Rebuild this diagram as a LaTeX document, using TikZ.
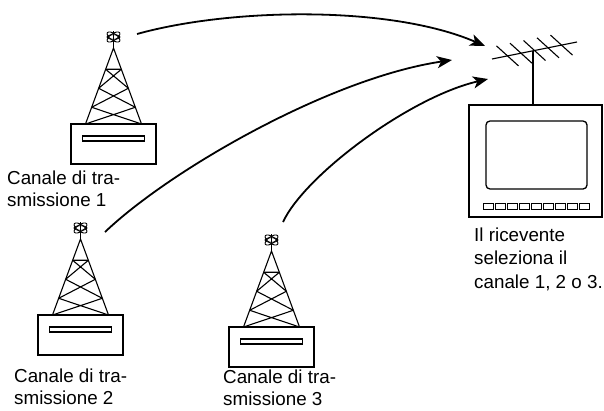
\documentclass[tikz,border=0pt]{standalone}
\usepackage{fontspec}
\setmainfont{Liberation Sans}
\usetikzlibrary{arrows.meta}
\begin{document}
\begin{tikzpicture}[x=1pt,y=-1pt,
  lattice/.style={line width=1.1pt},
  frame/.style={line width=1.3pt},
  signal/.style={line width=1.8pt,-{Stealth[length=15pt,width=12pt,inset=4pt]}},
  caption/.style={anchor=base west,inner sep=0pt,font=\fontsize{18.8}{22}\selectfont},
  % transmitter: box with display slot, lattice mast and aerial on top
  tower/.pic={
    \draw[frame] (-42.5,0) rectangle (42.5,40);
    \draw[lattice] (-31,12) rectangle (31,17);
    \draw[lattice] (-28,0) -- (0,-76) -- (28,0);
    \draw[lattice] (-7.84,-54.72) -- (7.84,-54.72)
      (-7.84,-54.72) -- (14.84,-35.72) (7.84,-54.72) -- (-14.84,-35.72)
      (-14.84,-35.72) -- (21.84,-16.72) (14.84,-35.72) -- (-21.84,-16.72)
      (-21.84,-16.72) -- (28,0) (21.84,-16.72) -- (-28,0);
    \draw[lattice] (0,-76) -- (0,-93);
    \draw[line width=0.9pt,rotate around={35:(0,-87)}] (0,-87) ellipse (7.5 and 3.3);
    \draw[line width=0.9pt,rotate around={-35:(0,-87)}] (0,-87) ellipse (7.5 and 3.3);
    \draw[line width=0.9pt] (0,-87) ellipse (6.5 and 2.3);
  }]
\useasboundingbox (0,0) rectangle (604,410);

% transmitters
\pic at (113.5,124) {tower};
\pic at (80.5,315) {tower};
\pic at (271.5,327) {tower};

% receiver: television set
\draw[frame] (469,105) rectangle (602,217);
\draw[frame,rounded corners=4pt] (486,121) rectangle (587,189);
\foreach \i in {0,...,8}
  \draw[line width=1pt] ({483+\i*12.1},203) rectangle ++(10,6);

% receiving aerial
\coordinate (boomL) at (492,59);
\coordinate (boomR) at (577,42);
\coordinate (mastTop) at (533,50.8);
\coordinate (mastFoot) at (533,105);
\draw[lattice] (boomL) -- (boomR);
\draw[lattice] (mastTop) -- (mastFoot);
\foreach \cx/\cy in {507.5/55.9, 521/53.2, 534.5/50.5, 548/47.8, 561.5/45.1}
  \draw[lattice] (\cx-11,\cy-10) -- (\cx+11,\cy+10);

% signal paths
\coordinate (s1) at (137,34);
\coordinate (r1) at (485,46);
\coordinate (s2) at (105,232);
\coordinate (r2) at (452,60);
\coordinate (s3) at (283,222);
\coordinate (r3) at (488,79);
\draw[signal] (s1) .. controls (230,8) and (390,5) .. (r1);
\draw[signal] (s2) .. controls (170,170) and (330,78) .. (r2);
\draw[signal] (s3) .. controls (305,175) and (410,97) .. (r3);

% captions
\node[caption] (c1) at (7,184) {\begin{tabular}[t]{@{}l@{}}Canale di tra-\\smissione 1\end{tabular}};
\node[caption] (c2) at (14,382) {\begin{tabular}[t]{@{}l@{}}Canale di tra-\\smissione 2\end{tabular}};
\node[caption] (c3) at (223,383) {\begin{tabular}[t]{@{}l@{}}Canale di tra-\\smissione 3\end{tabular}};
\node[caption,font=\fontsize{18.8}{23.5}\selectfont] (c4) at (474,241)
  {\begin{tabular}[t]{@{}l@{}}Il ricevente\\seleziona il\\canale 1, 2 o 3.\end{tabular}};
\end{tikzpicture}
\end{document}
